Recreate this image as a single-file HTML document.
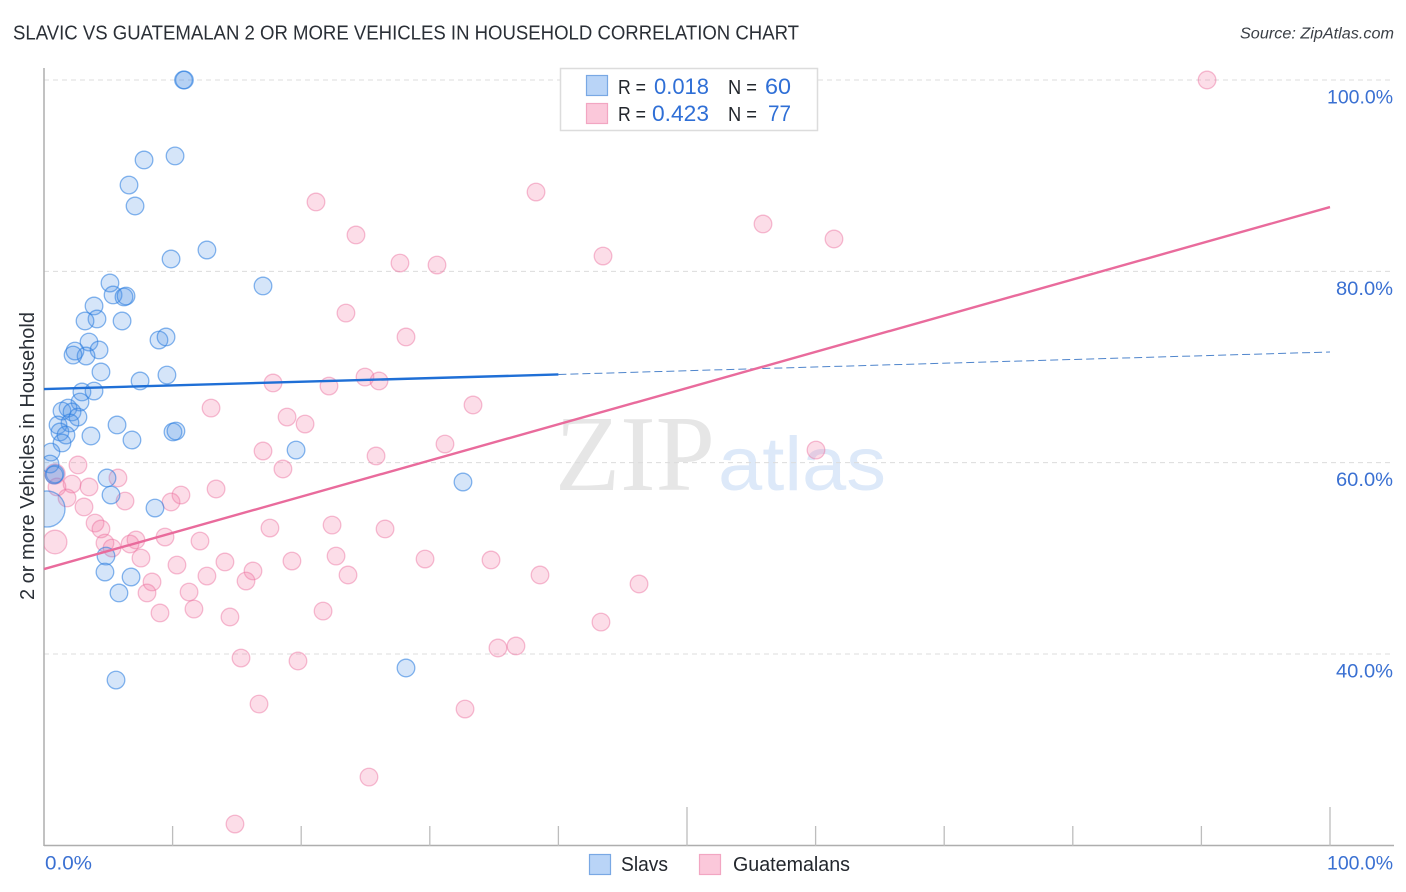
<!DOCTYPE html>
<html lang="en">
<head>
<meta charset="utf-8">
<title>Slavic vs Guatemalan 2 or More Vehicles in Household Correlation Chart</title>
<style>
html,body{margin:0;padding:0;background:#fff;}
body{width:1406px;height:892px;overflow:hidden;font-family:"Liberation Sans",sans-serif;}
svg{display:block;}
text{font-family:"Liberation Sans",sans-serif;}
</style>
</head>
<body>
<svg id="chart" width="1406" height="892" viewBox="0 0 1406 892" xmlns="http://www.w3.org/2000/svg">
  <defs>
    <clipPath id="plot-clip"><rect x="44" y="60" width="1350" height="786"/></clipPath>
  </defs>
  <text x="13" y="39.5" font-size="20" fill="#2a2f36" textLength="786" lengthAdjust="spacingAndGlyphs">SLAVIC VS GUATEMALAN 2 OR MORE VEHICLES IN HOUSEHOLD CORRELATION CHART</text>
  <text x="1394" y="38.5" font-size="15.5" font-style="italic" fill="#3a3f46" text-anchor="end" textLength="154" lengthAdjust="spacingAndGlyphs">Source: ZipAtlas.com</text>

  <g id="watermark">
    <text x="555" y="490" style="font-family:'Liberation Serif',serif" font-size="108" fill="#e6e6e6" textLength="160" lengthAdjust="spacingAndGlyphs">ZIP</text>
    <text x="718" y="490" font-size="76" fill="#dde9f9" textLength="168" lengthAdjust="spacingAndGlyphs">atlas</text>
  </g>

  <g id="grid"></g>
  <g id="axes"></g>
  <g id="marks" clip-path="url(#plot-clip)"></g>
  <g id="trends"></g>
  <g id="labels"></g>

  <text transform="translate(34 456) rotate(-90)" font-size="20" fill="#2a2f36" text-anchor="middle" textLength="288" lengthAdjust="spacingAndGlyphs">2 or more Vehicles in Household</text>

  <g>
    <rect x="560.5" y="68.5" width="257" height="62" fill="#fff" stroke="#dcdcdc" stroke-width="1.5"/>
    <rect x="586.5" y="75.5" width="21" height="20" fill="#b9d4f7" stroke="#79a8e4" stroke-width="1.2"/>
    <rect x="586.5" y="103.5" width="21" height="20" fill="#fbc8da" stroke="#f2a6c2" stroke-width="1.2"/>
    <text x="618" y="94" font-size="20" fill="#23272d" textLength="28" lengthAdjust="spacingAndGlyphs">R =</text>
    <text x="654" y="94" font-size="22" fill="#2f6fd6" textLength="55" lengthAdjust="spacingAndGlyphs">0.018</text>
    <text x="728" y="94" font-size="20" fill="#23272d" textLength="29" lengthAdjust="spacingAndGlyphs">N =</text>
    <text x="765" y="94" font-size="22" fill="#2f6fd6" textLength="26" lengthAdjust="spacingAndGlyphs">60</text>
    <text x="618" y="121" font-size="20" fill="#23272d" textLength="28" lengthAdjust="spacingAndGlyphs">R =</text>
    <text x="652" y="121" font-size="22" fill="#2f6fd6" textLength="57" lengthAdjust="spacingAndGlyphs">0.423</text>
    <text x="728" y="121" font-size="20" fill="#23272d" textLength="29" lengthAdjust="spacingAndGlyphs">N =</text>
    <text x="768" y="121" font-size="22" fill="#2f6fd6" textLength="23" lengthAdjust="spacingAndGlyphs">77</text>
  </g>

  <g>
    <rect x="589.5" y="854.5" width="21" height="20" fill="#b9d4f7" stroke="#79a8e4" stroke-width="1.2"/>
    <text x="621" y="871" font-size="20" fill="#23272d" textLength="47" lengthAdjust="spacingAndGlyphs">Slavs</text>
    <rect x="699.5" y="854.5" width="21" height="20" fill="#fbc8da" stroke="#f2a6c2" stroke-width="1.2"/>
    <text x="733" y="871" font-size="20" fill="#23272d" textLength="117" lengthAdjust="spacingAndGlyphs">Guatemalans</text>
  </g>
</svg>
<script>
const yTickValues = [100, 80, 60, 40];
const yTickLabels = ["100.0%", "80.0%", "60.0%", "40.0%"];
const xTickValues = [10, 20, 30, 40, 50, 60, 70, 80, 90, 100];
const xMajorTicks = [50, 100];
const xEndValues = [0, 100];
const xEndLabels = ["0.0%", "100.0%"];

const slavX = [10.85,10.92,10.19,7.78,6.61,7.08,12.67,9.88,17.03,5.13,5.37,6.22,6.38,3.89,4.12,3.19,6.07,8.94,9.49,3.50,4.28,2.41,3.27,2.26,4.43,7.47,9.56,2.95,3.89,2.80,1.87,1.40,2.18,2.64,2.02,1.09,1.24,1.71,3.65,5.68,6.84,10.03,10.26,19.60,1.40,0.54,0.47,0.86,4.90,0.78,5.21,8.63,32.58,0.23,4.82,4.74,6.77,5.83,28.15,5.60];
const slavY = [100,100,92.06,91.64,89.02,86.83,82.23,81.29,78.47,78.78,77.53,77.32,77.42,76.38,75.02,74.81,74.81,72.82,73.14,72.61,71.78,71.67,71.15,71.25,69.48,68.54,69.16,67.39,67.49,66.34,65.71,65.40,65.30,64.77,64.15,63.94,63.21,62.89,62.79,63.94,62.37,63.21,63.31,61.32,62.06,61.11,59.86,58.82,58.40,58.71,56.62,55.26,57.98,55.16,50.24,48.57,48.05,46.38,38.54,37.28];
const slavWeight = [1,1,1,1,1,1,1,1,1,1,1,1,1,1,1,1,1,1,1,1,1,1,1,1,1,1,1,1,1,1,1,1,1,1,1,1,1,1,1,1,1,1,1,1,1,1,1,1,1,1,1,1,1,4.2,1,1,1,1,1,1];

const guatemalanX = [90.44,38.26,21.15,55.91,24.26,61.43,43.47,27.68,30.56,23.48,28.15,17.81,22.16,24.96,26.05,33.36,12.99,18.90,20.30,31.18,17.03,25.82,60.03,18.58,2.64,0.86,5.75,13.38,3.50,2.18,1.01,1.79,3.11,6.30,10.65,9.88,3.97,4.43,17.57,22.40,26.52,4.74,5.29,6.69,7.15,9.41,12.13,0.86,7.54,22.71,29.63,34.76,14.07,19.28,10.34,16.25,15.71,12.67,8.40,8.01,11.28,23.64,38.57,46.27,11.66,9.02,14.46,21.70,43.31,35.30,36.70,15.32,19.75,16.72,32.74,25.27,14.85];
const guatemalanY = [100,88.29,87.25,84.95,83.80,83.38,81.60,80.87,80.66,75.64,73.14,68.33,68.01,68.95,68.54,66.03,65.71,64.77,64.04,61.95,61.22,60.70,61.32,59.34,59.76,58.82,58.40,57.25,57.46,57.77,57.46,56.31,55.37,55.99,56.62,55.89,53.69,53.07,53.17,53.48,53.07,51.60,51.08,51.50,51.92,52.23,51.81,51.71,50.03,50.24,49.93,49.83,49.62,49.72,49.30,48.68,47.63,48.15,47.53,46.38,46.48,48.26,48.26,47.32,44.70,44.29,43.87,44.49,43.34,40.63,40.84,39.58,39.27,34.77,34.25,27.14,22.23];
const guatemalanWeight = [1,1,1,1,1,1,1,1,1,1,1,1,1,1,1,1,1,1,1,1,1,1,1,1,1,1.3,1,1,1,1,1,1,1,1,1,1,1,1,1,1,1,1,1,1,1,1,1,1.8,1,1,1,1,1,1,1,1,1,1,1,1,1,1,1,1,1,1,1,1,1,1,1,1,1,1,1,1,1];

const slavTrendX = [0, 40];
const slavTrendY = [67.70, 69.22];
const slavTrendExtX = [40, 100];
const slavTrendExtY = [69.22, 71.57];
const guatemalanTrendX = [0, 100];
const guatemalanTrendY = [48.88, 86.72];

const SVG_NS = "http://www.w3.org/2000/svg";
const xScale = v => 44 + v * 12.86;
const yScale = v => 80 + (100 - v) * 9.567;
const rScale = w => 8.8 * Math.sqrt(w);

function make(tag, parent, attrs) {
  const el = document.createElementNS(SVG_NS, tag);
  for (const k in attrs) el.setAttribute(k, attrs[k]);
  parent.appendChild(el);
  return el;
}

function labelWidth(s) {
  if (s === "100.0%") return 66;
  if (s === "0.0%") return 47;
  return 57;
}

const grid = document.getElementById("grid");
const axes = document.getElementById("axes");
const marks = document.getElementById("marks");
const trends = document.getElementById("trends");
const labels = document.getElementById("labels");

yTickValues.forEach((v, i) => {
  const line = make("line", grid, {x1: 44, x2: 1394, y1: yScale(v), y2: yScale(v), stroke: "#dcdcdc", "stroke-width": 1, "stroke-dasharray": "5 4"});
  
  
  const t = make("text", labels, {x: 1393, y: yScale(v) + 23.5, "font-size": 19.5, fill: "#3a70d2", "text-anchor": "end", textLength: labelWidth(yTickLabels[i]), lengthAdjust: "spacingAndGlyphs"});
  t.textContent = yTickLabels[i];
  
  
});

const yAxisLine = make("line", axes, {x1: 44, x2: 44, y1: 68, y2: 846, stroke: "#aeaeae", "stroke-width": 1.5});


const xAxisLine = make("line", axes, {x1: 44, x2: 1394, y1: 845.5, y2: 845.5, stroke: "#aeaeae", "stroke-width": 1.5});



xTickValues.forEach(v => {
  const top = xMajorTicks.includes(v) ? 807 : 826;
  const tick = make("line", axes, {x1: xScale(v), x2: xScale(v), y1: top, y2: 846, stroke: "#bdbdbd", "stroke-width": 1.3});
  
  
});

xEndValues.forEach((v, i) => {
  const t = make("text", labels, {x: i === 0 ? xScale(v) + 1 : 1393, y: 869.5, "font-size": 19.5, fill: "#3a70d2", "text-anchor": i === 0 ? "start" : "end", textLength: labelWidth(xEndLabels[i]), lengthAdjust: "spacingAndGlyphs"});
  t.textContent = xEndLabels[i];
  
  
});

function drawSeries(xs, ys, ws, fill, stroke, fillAlpha, strokeAlpha, name) {
  xs.forEach((x, i) => {
    const c = make("circle", marks, {cx: xScale(x), cy: yScale(ys[i]), r: rScale(ws[i]), fill: fill, "fill-opacity": fillAlpha, stroke: stroke, "stroke-opacity": strokeAlpha, "stroke-width": 1.3});
    
    
  });
}
drawSeries(guatemalanX, guatemalanY, guatemalanWeight, "#f27ba6", "#ea6f9e", 0.26, 0.45, "guatemalans-point");
drawSeries(slavX, slavY, slavWeight, "#4f93e8", "#2f7fe0", 0.24, 0.58, "slavs-point");

function drawTrend(xs, ys, stroke, width, dash, name) {
  const line = make("line", trends, {x1: xScale(xs[0]), y1: yScale(ys[0]), x2: xScale(xs[1]), y2: yScale(ys[1]), stroke: stroke, "stroke-width": width});
  if (dash) line.setAttribute("stroke-dasharray", dash);
  
  
}
drawTrend(slavTrendX, slavTrendY, "#1f6fd6", 2.4, null, "slavs-trend-line");
drawTrend(slavTrendExtX, slavTrendExtY, "#4f85cc", 1, "8 4", "slavs-trend-extension");
drawTrend(guatemalanTrendX, guatemalanTrendY, "#e96b9c", 2.4, null, "guatemalans-trend-line");
</script>
</body>
</html>
